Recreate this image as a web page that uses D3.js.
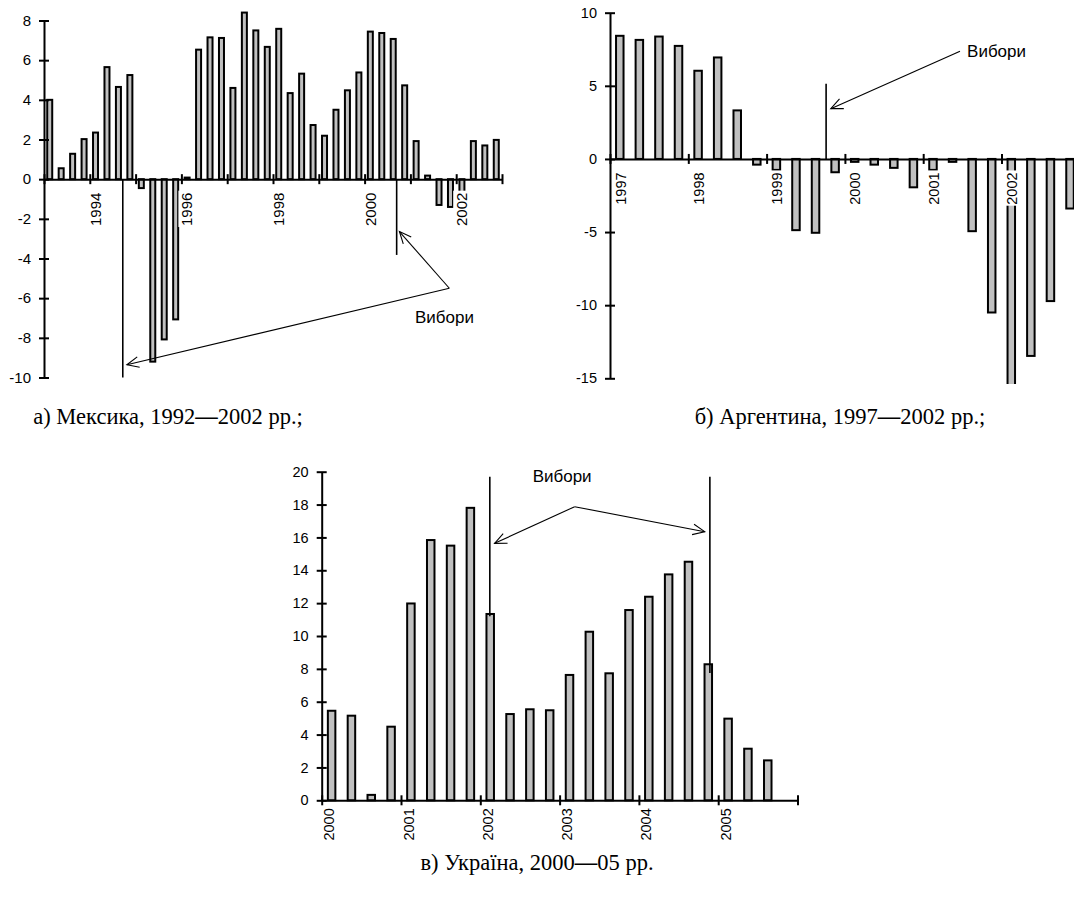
<!DOCTYPE html>
<html>
<head>
<meta charset="utf-8">
<title>Вибори</title>
<script src="https://d3js.org/d3.v7.min.js"></script>
<style>
    body { margin: 0; background: #fff; }
    svg text { font-family: "Liberation Sans", Arial, sans-serif; fill: #000; }
    svg text.caption { font-family: "Liberation Serif", "Times New Roman", serif; font-size: 22.5px; }
</style>
</head>
<body>
<svg id="chart" width="1074" height="918"></svg>
<script>
    // ---- data (quarterly values) ----
    const mexicoStart = 1993;
    const mexicoValues = [4.0, 0.55, 1.28, 2.02, 2.35, 5.65, 4.65, 5.25,
        -0.45, -9.2, -8.08, -7.07, 0.08, 6.53, 7.15, 7.12,
        4.6, 8.4, 7.5, 6.67, 7.58, 4.34, 5.32, 2.73,
        2.19, 3.5, 4.48, 5.38, 7.44, 7.37, 7.07, 4.73,
        1.92, 0.18, -1.3, -1.4, -0.7, 1.92, 1.7, 1.98];
    const mexicoYTicks = [-10, -8, -6, -4, -2, 0, 2, 4, 6, 8];
    const mexicoXTicks = [1993, 1994, 1995, 1996, 1997, 1998, 1999, 2000, 2001, 2002, 2003];
    const mexicoXLabels = [1994, 1996, 1998, 2000, 2002];
    const mexicoElections = [1994.72, 2000.7];

    const argentinaStart = 1997;
    const argentinaValues = [8.42, 8.14, 8.37, 7.73, 6.03, 6.94, 3.32, -0.39,
        -0.75, -4.87, -5.05, -0.91, -0.2, -0.39, -0.61, -1.94,
        -0.75, -0.2, -4.94, -10.5, -16.0, -13.47, -9.72, -3.39];
    const argentinaYTicks = [-15, -10, -5, 0, 5, 10];
    const argentinaXTicks = [1997, 1998, 1999, 2000, 2001, 2002, 2003];
    const argentinaXLabels = [1997, 1998, 1999, 2000, 2001, 2002];
    const argentinaElections = [1999.76];

    const ukraineStart = 2000;
    const ukraineValues = [5.45, 5.15, 0.33, 4.48, 11.98, 15.84, 15.5, 17.8,
        11.34, 5.25, 5.54, 5.48, 7.63, 10.26, 7.73, 11.58,
        12.39, 13.75, 14.52, 8.28, 4.97, 3.14, 2.43];
    const ukraineYTicks = [0, 2, 4, 6, 8, 10, 12, 14, 16, 18, 20];
    const ukraineXTicks = [2000, 2001, 2002, 2003, 2004, 2005, 2006];
    const ukraineXLabels = [2000, 2001, 2002, 2003, 2004, 2005];
    const ukraineElections = [2002.12, 2004.895];

    const electionLabel = "Вибори";
    const captions = ["а) Мексика, 1992—2002 рр.;", "б) Аргентина, 1997—2002 рр.;", "в) Україна, 2000—05 рр."];

    const svg = d3.select("#chart");

    function drawArrow(g, x1, y1, x2, y2) {
        const a = Math.atan2(y2 - y1, x2 - x1);
        const len = 13, h = 0.42;
        g.append("line")
            .attr("x1", x1).attr("y1", y1).attr("x2", x2).attr("y2", y2)
            .attr("stroke", "#000").attr("stroke-width", 1.1);
        g.append("path")
            .attr("d", `M${x2 - len * Math.cos(a - h)},${y2 - len * Math.sin(a - h)}L${x2},${y2}L${x2 - len * Math.cos(a + h)},${y2 - len * Math.sin(a + h)}`)
            .attr("fill", "none").attr("stroke", "#000").attr("stroke-width", 1.1);
    }

    function drawPanel(p) {
        const g = svg.append("g");
        const x = d3.scaleLinear().domain(p.xDomain).range(p.xRange);
        const y = d3.scaleLinear().domain(p.yDomain).range(p.yRange);
        const y0 = y(0);

        const clipId = "clip-" + p.name;
        g.append("clipPath").attr("id", clipId)
            .append("rect")
            .attr("x", p.clip[0]).attr("y", p.clip[1])
            .attr("width", p.clip[2]).attr("height", p.clip[3]);

        const bars = p.values.map((v, i) => ({ t: p.start + i / 4, v: v }));

        g.append("g").attr("clip-path", `url(#${clipId})`)
            .selectAll("rect")
            .data(bars)
            .join("rect")
            .attr("x", d => x(d.t + 0.125) - p.barWidth / 2)
            .attr("y", d => y(Math.max(d.v, 0)))
            .attr("width", p.barWidth)
            .attr("height", d => Math.abs(y(d.v) - y0))
            .attr("fill", "#c0c0c0")
            .attr("stroke", "#000")
            .attr("stroke-width", 2);

        // x axis at zero
        const xAxis = g.append("g")
            .attr("transform", `translate(0,${y0})`)
            .call(d3.axisBottom(x)
                .tickValues(p.xTicks)
                .tickSizeOuter(0)
                .tickSizeInner(5)
                .tickFormat(d => p.xLabels.includes(d) ? String(d) : ""));
        xAxis.select(".domain").attr("stroke-width", 2);
        xAxis.selectAll(".tick line").attr("y1", -5).attr("stroke-width", 2);
        xAxis.selectAll(".tick text")
            .attr("x", 0).attr("y", 0).attr("dy", 0)
            .attr("text-anchor", "end")
            .attr("font-size", p.fontSize)
            .attr("font-family", null)
            .attr("transform", `translate(${p.labelDx},${p.labelDy}) rotate(-90)`)
            .each(function () {
                if (!this.textContent) return;
                const bb = this.getBBox();
                d3.select(this.parentNode).insert("rect", "text")
                    .attr("x", bb.x - 1).attr("y", bb.y)
                    .attr("width", bb.width + 3).attr("height", bb.height + 1)
                    .attr("fill", "#fff")
                    .attr("transform", `translate(${p.labelDx},${p.labelDy}) rotate(-90)`);
            });

        // y axis
        const yAxis = g.append("g")
            .attr("transform", `translate(${p.xRange[0]},0)`)
            .call(d3.axisLeft(y)
                .tickValues(p.yTicks)
                .tickSizeOuter(0)
                .tickSizeInner(5)
                .tickPadding(8)
                .tickFormat(d3.format("d")));
        yAxis.select(".domain").attr("stroke-width", 2);
        yAxis.selectAll(".tick line").attr("x1", 5).attr("stroke-width", 2);
        yAxis.selectAll(".tick text")
            .attr("font-size", p.fontSize)
            .attr("font-family", null)
            .text(d => d < 0 ? "-" + Math.abs(d) : d);

        // elections
        p.lines.forEach(l => {
            g.append("line")
                .attr("x1", x(l.t)).attr("x2", x(l.t))
                .attr("y1", y(l.from)).attr("y2", y(l.to))
                .attr("stroke", "#000").attr("stroke-width", 1.6);
        });
        p.arrows.forEach(a => drawArrow(g, x(a.from[0]), y(a.from[1]), x(a.to[0]), y(a.to[1])));
        g.append("text")
            .attr("x", x(p.note[0])).attr("y", y(p.note[1]))
            .attr("font-size", 17)
            .text(electionLabel);
    }

    drawPanel({
        name: "mexico",
        start: mexicoStart, values: mexicoValues,
        xDomain: [1993, 2003], xRange: [44, 502],
        yDomain: [-10, 8], yRange: [377.5, 20.5],
        xTicks: mexicoXTicks, xLabels: mexicoXLabels, yTicks: mexicoYTicks,
        barWidth: 5, fontSize: 15, labelDx: 10.5, labelDy: 13.5,
        clip: [0, 0, 540, 400],
        lines: [
            { t: mexicoElections[0], from: 0, to: -10 },
            { t: mexicoElections[1], from: 0, to: -3.82 }
        ],
        arrows: [
            { from: [2001.85, -5.5], to: [mexicoElections[0] + 0.09, -9.36] },
            { from: [2001.85, -5.5], to: [mexicoElections[1] + 0.06, -2.64] }
        ],
        note: [2001.1, -7.26]
    });

    drawPanel({
        name: "argentina",
        start: argentinaStart, values: argentinaValues,
        xDomain: [1997, 2003], xRange: [610, 1079.8],
        yDomain: [-15, 10], yRange: [378.3, 12.7],
        xTicks: argentinaXTicks, xLabels: argentinaXLabels, yTicks: argentinaYTicks,
        barWidth: 7.5, fontSize: 14.5, labelDx: 15, labelDy: 13.5,
        clip: [560, 0, 520, 384],
        lines: [
            { t: argentinaElections[0], from: 0, to: 5.15 }
        ],
        arrows: [
            { from: [2001.47, 7.36], to: [argentinaElections[0] + 0.06, 3.44] }
        ],
        note: [2001.56, 6.98]
    });

    drawPanel({
        name: "ukraine",
        start: ukraineStart, values: ukraineValues,
        xDomain: [2000, 2006], xRange: [321.7, 797.5],
        yDomain: [0, 20], yRange: [800.3, 471.7],
        xTicks: ukraineXTicks, xLabels: ukraineXLabels, yTicks: ukraineYTicks,
        barWidth: 7.5, fontSize: 14.5, labelDx: 12, labelDy: 8,
        clip: [270, 440, 560, 380],
        lines: [
            { t: ukraineElections[0], from: 19.7, to: 11.2 },
            { t: ukraineElections[1], from: 19.7, to: 7.75 }
        ],
        arrows: [
            { from: [2003.19, 17.87], to: [ukraineElections[0] + 0.06, 15.64] },
            { from: [2003.19, 17.87], to: [ukraineElections[1] - 0.065, 16.35] }
        ],
        note: [2002.66, 19.4]
    });

    // captions
    const captionPos = [[168, 424], [840, 424], [537, 870]];
    captions.forEach((c, i) => {
        const parts = c.split("—");
        const t = svg.append("text")
            .attr("class", "caption")
            .attr("x", captionPos[i][0]).attr("y", captionPos[i][1])
            .attr("text-anchor", "middle");
        t.append("tspan").text(parts[0]);
        t.append("tspan").attr("font-weight", "bold").text("—");
        t.append("tspan").text(parts[1]);
    });
</script>
</body>
</html>
